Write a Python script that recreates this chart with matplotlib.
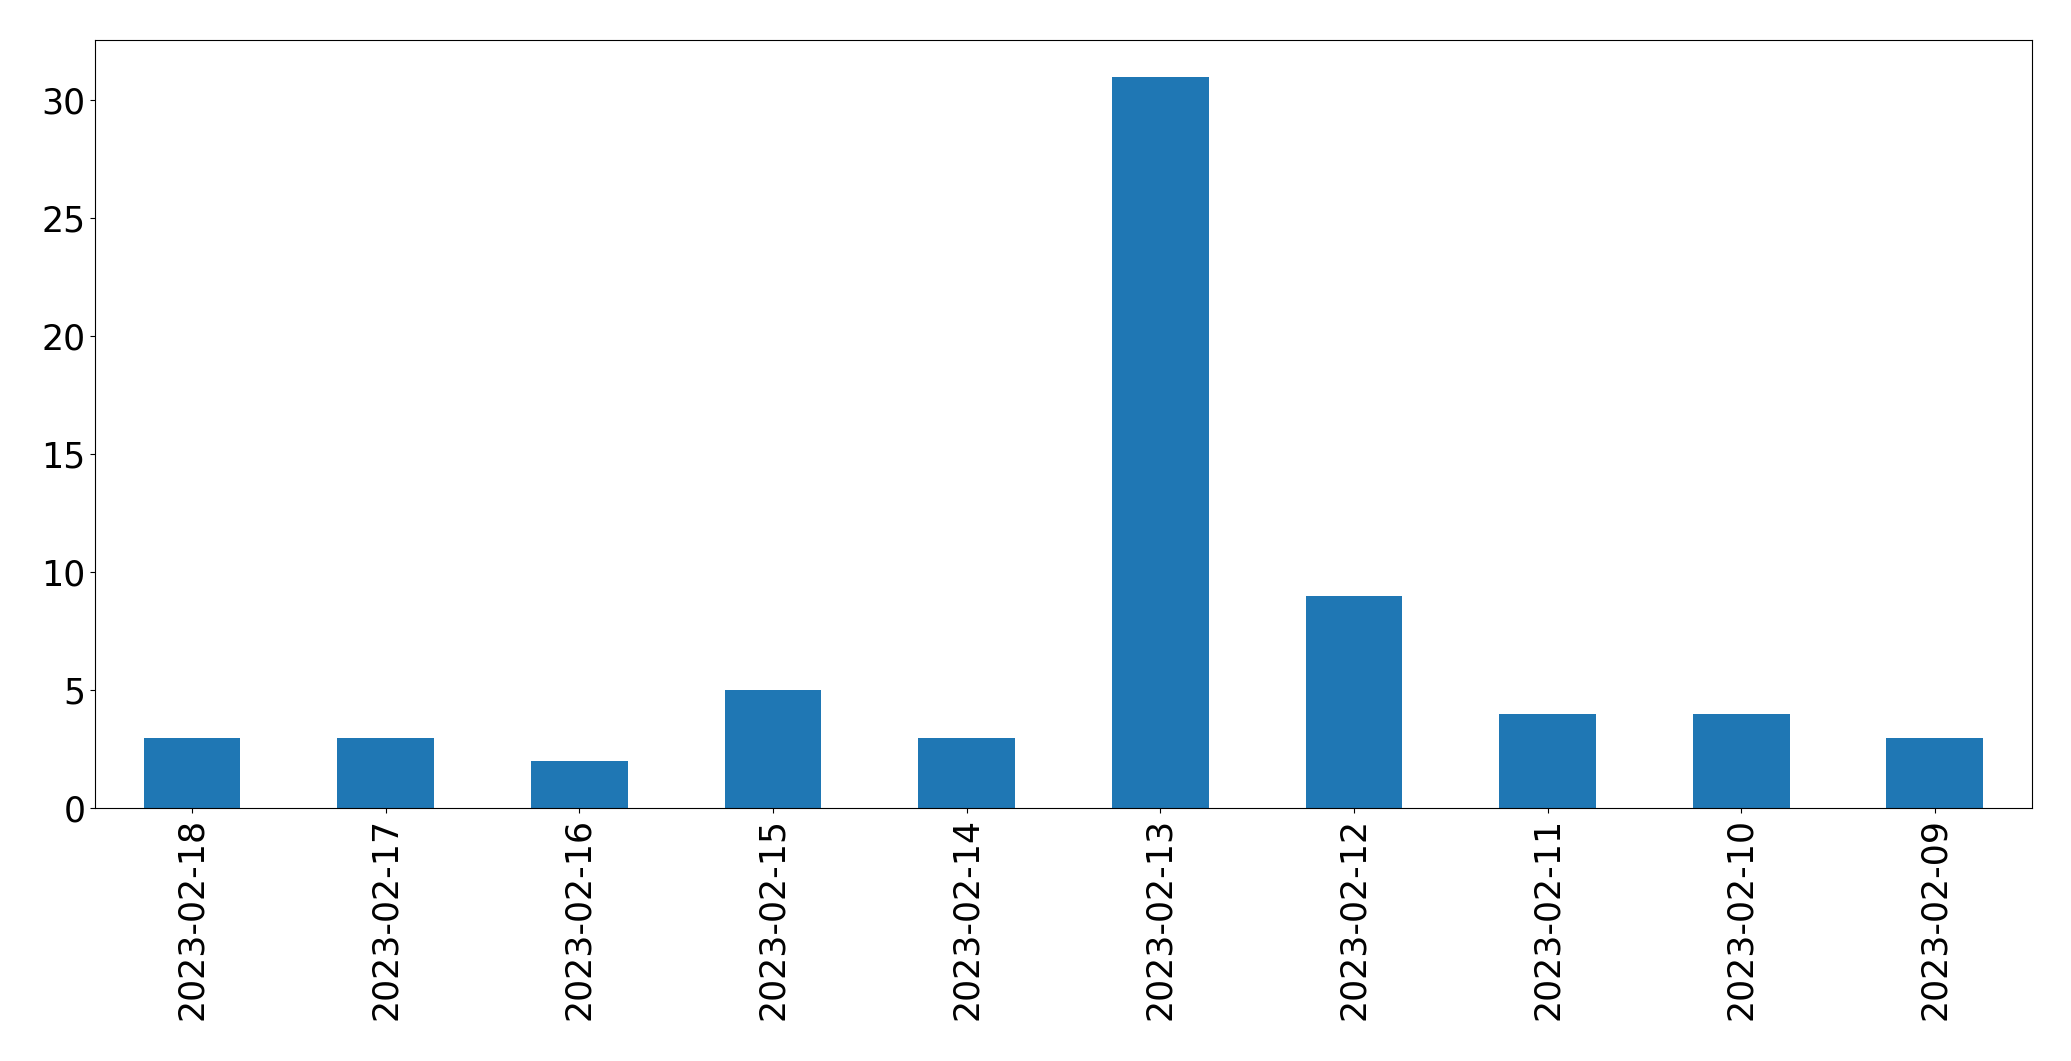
import matplotlib
matplotlib.use('Agg')
import matplotlib.pyplot as plt
import pandas as pd

dates = ['2023-02-18', '2023-02-17', '2023-02-16', '2023-02-15', '2023-02-14',
         '2023-02-13', '2023-02-12', '2023-02-11', '2023-02-10', '2023-02-09']
counts = [3, 3, 2, 5, 3, 31, 9, 4, 4, 3]

plt.rcParams['font.size'] = 25

s = pd.Series(counts, index=dates)
fig, ax = plt.subplots(figsize=(20.71, 10.61), dpi=100)
s.plot(kind='bar', ax=ax, color='#1f77b4')
plt.subplots_adjust(left=0.046, right=0.981, top=0.962, bottom=0.238)
plt.savefig('out.png')
